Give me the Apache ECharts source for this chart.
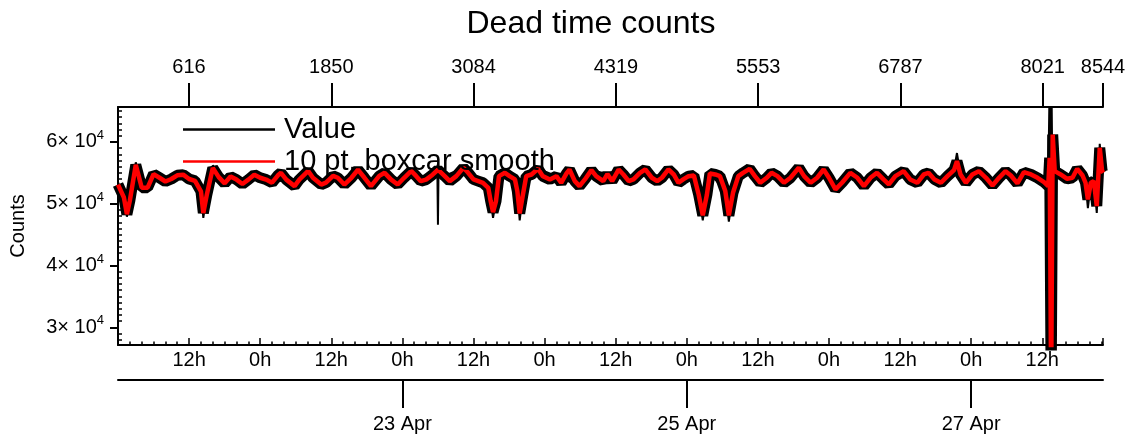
<!DOCTYPE html>
<html><head><meta charset="utf-8">
<script src="https://cdn.jsdelivr.net/npm/echarts@6/dist/echarts.min.js"></script>
<style>html,body{margin:0;padding:0;background:#fff}#c{width:1137px;height:443px}</style>
</head><body><div id="c"></div>
<script>
// ---- data (hours after 21 Apr 00:00 UT) ----
const smoothHours = [
0,1,1.5,2,3,4,5,6,7,8,
9,10,11,12,13,14,14.4,15,16,17,
18,19,20,21,22,23,24,25,26,27,
27.5,28.4,29.8,30.6,32.1,32.9,34.3,35.1,36.3,37.1,
38.2,39.4,40.5,41.6,42.7,44.1,45,46.1,47.2,48.3,
49.5,50.3,51.1,52,53.1,54,55.1,56,57.1,58.3,
59.1,60,60.8,61.6,62.5,62.9,63.3,63.8,64.3,65.3,
66.1,67,67.4,67.8,68.3,68.9,69.8,70.9,71.7,72.9,
74,74.8,75.7,76.2,77.1,77.9,78.8,79.9,80.7,81.9,
82.6,83.4,84.5,85.3,86.2,87,88.1,89,90.1,91,
91.8,92.9,93.8,94.6,95.4,96.3,97.2,98,98.7,99.4,
99.9,100.8,101.6,102.5,103.1,103.8,104.7,105.5,106.6,107.5,
108.4,109.5,110.3,111.3,112.4,113.5,114.9,115.8,116.9,118,
119.1,120,121.1,122.2,123.6,124.8,125.9,127,128.1,129.2,
130.1,131.2,132.6,133.7,134.9,136,136.8,137.8,138.9,140,
141.1,141.6,142.2,143.1,144.2,145.3,146.5,147.6,148.7,149.8,
150.7,151.8,152.9,154.1,155.2,156.3,157,157.25,157.5,157.76,
158.1,159.1,160.2,161.1,161.9,162.8,163.3,163.7,164.2,164.7,
165.2,165.7,166.1,166.3
];
const smoothCounts = [
53100,51000,48300,50500,56300,52600,52600,54800,54200,53600,
54000,54600,54700,54000,53700,52000,48500,51500,55800,54300,
53300,54400,53900,53200,53900,54700,54200,53900,53400,54600,
55000,53900,52850,53900,55300,54200,53100,53400,54500,54200,
53100,54200,55500,54200,52850,54500,55000,53900,53100,54200,
55300,54500,53650,53900,54700,55500,54500,53660,54460,55810,
55000,53930,53660,53390,52580,50430,48650,50430,54460,55000,
54460,53930,52040,48430,51230,54460,54730,55650,54460,53930,
54460,53390,54900,55540,53660,52850,53930,55440,54460,53660,
54800,53660,55540,54730,53660,53930,55000,55540,54200,53660,
54200,55540,54730,53390,53930,54460,54570,51500,48110,51500,
54900,54730,54460,52040,48110,51770,54460,55000,55650,54460,
53390,54200,55000,54460,53390,54200,55810,54460,53390,54200,
55540,54200,52310,53390,55000,54200,52850,54200,55000,53930,
53120,54460,55270,53930,53390,54730,55000,53930,53390,54460,
55430,56890,54730,53390,54730,55270,54190,52960,54190,55270,
54570,53280,55110,54730,54190,53500,52850,57430,20000,61190,
55270,54730,54030,54190,55650,54570,53390,50700,53390,53660,
49620,59040,55270,55000
];
const valueHours = [
0,1,1.5,2,3,4,6,8,10,12,14,14.4,15,16,18,20,22,24,26,28.4,
30.6,32.1,34.3,36.3,38.2,40.5,42.7,45,47.2,49.5,51.1,53.1,53.9,54,54.1,55.1,
58.3,60.8,62.5,62.9,63.3,63.8,64.3,66.1,67.4,67.8,68.3,68.9,70.9,74,
77.9,79.9,82.6,84.5,87,89,91,92.9,95.4,97.2,98,98.7,99.4,99.9,
102.5,103.1,103.8,104.7,106.6,108.4,110.3,112.4,114.9,116.9,119.1,121.1,123.6,125.9,128.1,130.1,
132.6,134.9,136.8,138.9,141.1,141.6,142.2,143.1,145.3,147.6,149.8,151.8,152.9,155.2,
157,157.25,157.4,157.55,157.7,158.1,160.2,161.9,163.3,163.7,164.2,164.7,165.2,165.7,166.1,166.3
];
const valueCounts = [
53500,51000,47900,50500,56700,52600,54800,53600,54600,54000,52000,47700,51500,56200,53300,53900,53900,54200,53400,53900,
53900,55300,53100,54500,53100,55500,52850,55000,53100,55300,53650,54700,55400,46600,55400,54500,
55810,53660,52580,50430,47700,50430,54460,54460,52040,47300,51230,54460,55650,54460,
52850,55440,54800,55540,53930,55540,53660,55540,53930,54570,51500,47300,51500,54900,
52040,47100,51770,54460,55650,53390,55000,53390,55810,53390,55540,52310,55000,52850,55000,53120,
55270,53390,55000,53390,55430,58200,54730,53390,55270,52960,55270,53280,55110,54190,
52850,70000,10000,70000,55000,55270,54030,55650,53390,49300,53390,53660,48500,59700,55270,55000
];
const yTickValues = [30000, 40000, 50000, 60000];
const indexTickValues = [616, 1850, 3084, 4319, 5553, 6787, 8021, 8544];
const dateTickDays = [23, 25, 27];
const dateTickLabels = ['23 Apr', '25 Apr', '27 Apr'];

// ---- build ----
const H = 3600000;
const T0 = Date.UTC(2013, 3, 21);
const TMAX = T0 + 166.25 * H;
const YMIN = 27140, YMAX = 65650;
const toPairs = (hs, vs) => hs.map((h, i) => [T0 + h * H, vs[i]]);
const smoothData = toPairs(smoothHours, smoothCounts);
const valueData = toPairs(valueHours, valueCounts);
const dateTicks = dateTickDays.map(d => Date.UTC(2013, 3, d));
const yMinor = [];
for (let v = 28000; v <= 65000; v += 1000) if (v % 10000) yMinor.push(v);

const FONT = 'Liberation Sans, Arial, sans-serif';
const FS = 20;
const black = '#000';
const chart = echarts.init(document.getElementById('c'), null, {renderer: 'canvas'});
chart.setOption({
  animation: false,
  backgroundColor: '#fff',
  textStyle: {fontFamily: FONT, color: black},
  title: {text: 'Dead time counts', left: 586, top: 3, textAlign: 'center',
    textStyle: {fontFamily: FONT, fontSize: 32, fontWeight: 'normal', color: black}},
  legend: {
    data: ['Value', '10 pt. boxcar smooth'],
    orient: 'vertical', left: 178, top: 110, icon: 'rect',
    itemWidth: 92, itemHeight: 2.5, itemGap: 3,
    textStyle: {fontFamily: FONT, fontSize: 29, lineHeight: 29, color: black, padding: [0, 0, 0, 4]}
  },
  grid: {left: 116, right: 34, top: 107, bottom: 98, containLabel: false},
  xAxis: [
    {type: 'value', position: 'bottom', min: T0, max: TMAX, interval: 12 * H,
     axisLine: {lineStyle: {color: black, width: 2}},
     axisTick: {inside: true, length: 7, lineStyle: {color: black, width: 1.5}},
     minorTick: {show: true, splitNumber: 6, length: 3.5, lineStyle: {color: black, width: 1.5}},
     axisLabel: {showMinLabel: false, showMaxLabel: false, fontSize: FS, color: black, fontFamily: FONT, margin: 5,
       formatter: v => new Date(v).getUTCHours() + 'h'},
     splitLine: {show: false}, minorSplitLine: {show: false}},
    {type: 'value', position: 'bottom', offset: 35, min: T0, max: TMAX,
     axisLine: {lineStyle: {color: black, width: 2}},
     axisTick: {customValues: dateTicks, inside: false, length: 28, lineStyle: {color: black, width: 2}},
     axisLabel: {customValues: dateTicks, fontSize: FS, color: black, fontFamily: FONT, margin: 34,
       formatter: v => dateTickLabels[dateTicks.indexOf(v)] || ''},
     splitLine: {show: false}},
    {type: 'value', position: 'top', min: 0, max: 8544,
     axisLine: {lineStyle: {color: black, width: 2}},
     axisTick: {customValues: indexTickValues, inside: false, length: 24, lineStyle: {color: black, width: 2}},
     axisLabel: {customValues: indexTickValues, fontSize: FS, color: black, fontFamily: FONT, margin: 30,
       formatter: v => String(v)},
     splitLine: {show: false}}
  ],
  yAxis: [
    {type: 'value', min: YMIN, max: YMAX,
     axisLine: {show: true, lineStyle: {color: black, width: 2}},
     axisTick: {show: true, customValues: yTickValues, inside: false, length: 8, lineStyle: {color: black, width: 2}},
     axisLabel: {customValues: yTickValues, margin: 14, color: black, fontFamily: FONT,
       formatter: v => '{m|' + (v / 10000) + '× 10}{s|4}',
       rich: {m: {fontSize: FS, fontFamily: FONT, color: black}, s: {fontSize: 13, fontFamily: FONT, color: black, padding: [0, 0, 13, 0]}}},
     splitLine: {show: false},
     name: 'Counts', nameLocation: 'middle', nameGap: 90, nameRotate: 90,
     nameTextStyle: {fontSize: FS, fontFamily: FONT, color: black}},
    {type: 'value', min: YMIN, max: YMAX, position: 'left',
     axisLine: {show: false},
     axisTick: {show: true, customValues: yMinor, inside: true, length: 4, lineStyle: {color: black, width: 1.5}},
     axisLabel: {show: false}, splitLine: {show: false}}
  ],
  series: [
    {name: 'Value', type: 'line', data: smoothData, symbol: 'none', xAxisIndex: 0, yAxisIndex: 0,
     lineStyle: {color: black, width: 11}, itemStyle: {color: black}, z: 1},
    {name: 'Value', type: 'line', data: valueData, symbol: 'none', xAxisIndex: 0, yAxisIndex: 0,
     lineStyle: {color: black, width: 2}, itemStyle: {color: black}, z: 2},
    {name: '10 pt. boxcar smooth', type: 'line', data: smoothData, symbol: 'none', xAxisIndex: 0, yAxisIndex: 0,
     lineStyle: {color: '#ff0000', width: 4.5}, itemStyle: {color: '#ff0000'}, z: 3}
  ]
});
</script>
</body></html>
